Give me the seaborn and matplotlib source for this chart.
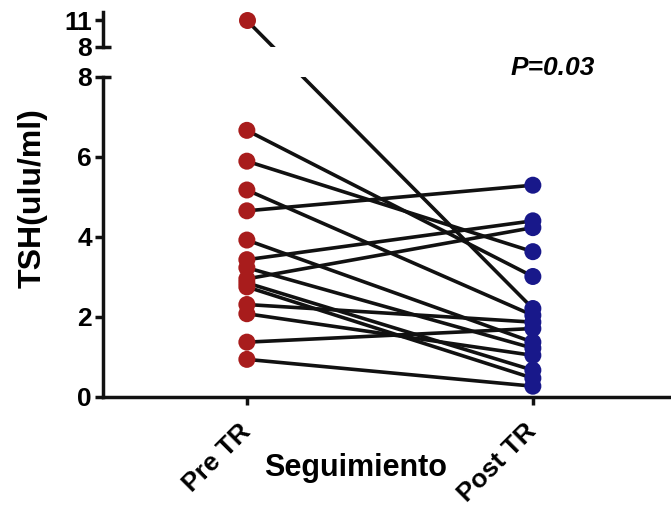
import numpy as np
import pandas as pd
import matplotlib
matplotlib.use("Agg")
import matplotlib.pyplot as plt
import seaborn as sns

# ---- data ----
times = ["Pre TR", "Post TR"]
pre_vals = [11.0, 6.66, 5.89, 5.17, 4.65, 3.92, 3.43, 3.23, 2.95, 2.85, 2.75, 2.31, 2.08, 1.37, 0.94]
post_vals = [2.21, 3.01, 3.63, 2.04, 5.29, 1.37, 4.40, 1.22, 4.23, 0.67, 0.47, 1.87, 1.04, 1.71, 0.27]
p_text = "P=0.03"
lower_ticks = [0, 2, 4, 6, 8]
upper_ticks = [8, 11]
break_at = 8

sns.set_style("ticks")
plt.rcParams["font.family"] = ["Liberation Sans", "DejaVu Sans"]
plt.rcParams["font.weight"] = "bold"
for k in ("text.color", "axes.labelcolor", "xtick.color", "ytick.color"):
    plt.rcParams[k] = "#000000"

red = "#A81C1C"
blue = "#18188A"
ink = "#111111"

ids = list(range(len(pre_vals)))
df = pd.DataFrame({
    "id": ids * 2,
    "time": [times[0]] * len(ids) + [times[1]] * len(ids),
    "pos": [0] * len(ids) + [1] * len(ids),
    "val": pre_vals + post_vals,
})

W, H = 671, 514
fig = plt.figure(figsize=(W / 100, H / 100), dpi=100)
left, right = 103 / W, 1.0
ax_bot = fig.add_axes([left, (H - 397) / H, right - left, (397 - 76.7) / H])
ax_top = fig.add_axes([left, (H - 46.7) / H, right - left, (46.7 - 11.7) / H])

xlim = (-0.503, 1.483)
for ax in (ax_bot, ax_top):
    ax.set_xlim(*xlim)
    ax.set_facecolor("none")
ax_bot.set_ylim(0, break_at)
ax_top.set_ylim(break_at, 12)

lw = 2.6
ms = 150

normal = df[df["val"].groupby(df["id"]).transform("max") <= break_at]
out_ids = sorted(set(df["id"]) - set(normal["id"]))

sns.lineplot(data=normal, x="pos", y="val", units="id", estimator=None,
             color=ink, lw=lw, ax=ax_bot, legend=False, zorder=2)

fig.canvas.draw()
# outlier subjects: straight line in display space spanning both panels
for i in out_ids:
    a = df[(df["id"] == i) & (df["pos"] == 0)]["val"].iloc[0]
    b = df[(df["id"] == i) & (df["pos"] == 1)]["val"].iloc[0]
    pa = ax_top.transData.transform((0, a)) if a > break_at else ax_bot.transData.transform((0, a))
    pb = ax_top.transData.transform((1, b)) if b > break_at else ax_bot.transData.transform((1, b))
    for ax in (ax_bot, ax_top):
        inv = ax.transData.inverted()
        (x0, y0), (x1, y1) = inv.transform(pa), inv.transform(pb)
        seg = pd.DataFrame({"x": [x0, x1], "y": [y0, y1]})
        sns.lineplot(data=seg, x="x", y="y", color=ink, lw=lw, ax=ax,
                     legend=False, zorder=2, estimator=None, sort=False)

low_pts = df[df["val"] <= break_at]
high_pts = df[df["val"] > break_at]
sns.scatterplot(data=low_pts, x="pos", y="val", hue="time", palette={times[0]: red, times[1]: blue},
                s=ms, linewidth=0, ax=ax_bot, legend=False, zorder=3, clip_on=False)
sns.scatterplot(data=high_pts, x="pos", y="val", hue="time", palette={times[0]: red, times[1]: blue},
                s=ms, linewidth=0, ax=ax_top, legend=False, zorder=3, clip_on=False)

# axes styling
for ax in (ax_bot, ax_top):
    for s in ("top", "right"):
        ax.spines[s].set_visible(False)
    ax.spines["left"].set_linewidth(2.5)
    ax.spines["left"].set_color(ink)
    ax.tick_params(axis="y", length=6, width=2.5, color=ink, labelsize=19, pad=2)
    ax.set_xlabel("")
    ax.set_ylabel("")
    # break marks at 8
    ax.plot([0, 0.014], [break_at, break_at], transform=ax.get_yaxis_transform(),
            color=ink, lw=2.5, clip_on=False, solid_capstyle="butt")

ax_top.spines["bottom"].set_visible(False)
ax_top.set_xticks([])
ax_top.set_yticks(upper_ticks)
ax_top.set_yticklabels([str(t) for t in upper_ticks], fontweight="bold")

ax_bot.spines["bottom"].set_linewidth(2.5)
ax_bot.spines["bottom"].set_color(ink)
ax_bot.set_yticks(lower_ticks)
ax_bot.set_yticklabels([str(t) for t in lower_ticks], fontweight="bold")
ax_bot.set_xticks([0, 1])
ax_bot.set_xticklabels(times, rotation=45, ha="right", va="center",
                       rotation_mode="anchor", fontsize=19, fontweight="bold")
ax_bot.tick_params(axis="x", length=6, width=2.5, color=ink, pad=16)

ax_bot.set_ylabel("TSH(ulu/ml)", fontsize=23, fontweight="bold")
ax_bot.yaxis.set_label_coords(-0.097, 0.62)
ax_bot.set_xlabel("Seguimiento", fontsize=22, fontweight="bold")
ax_bot.xaxis.set_label_coords(0.445, -0.175)

fig.text(553 / W, 1 - 68 / H, p_text, fontsize=19, fontweight="bold", style="italic",
         ha="center", va="center")

fig.savefig("out.png", dpi=100)
